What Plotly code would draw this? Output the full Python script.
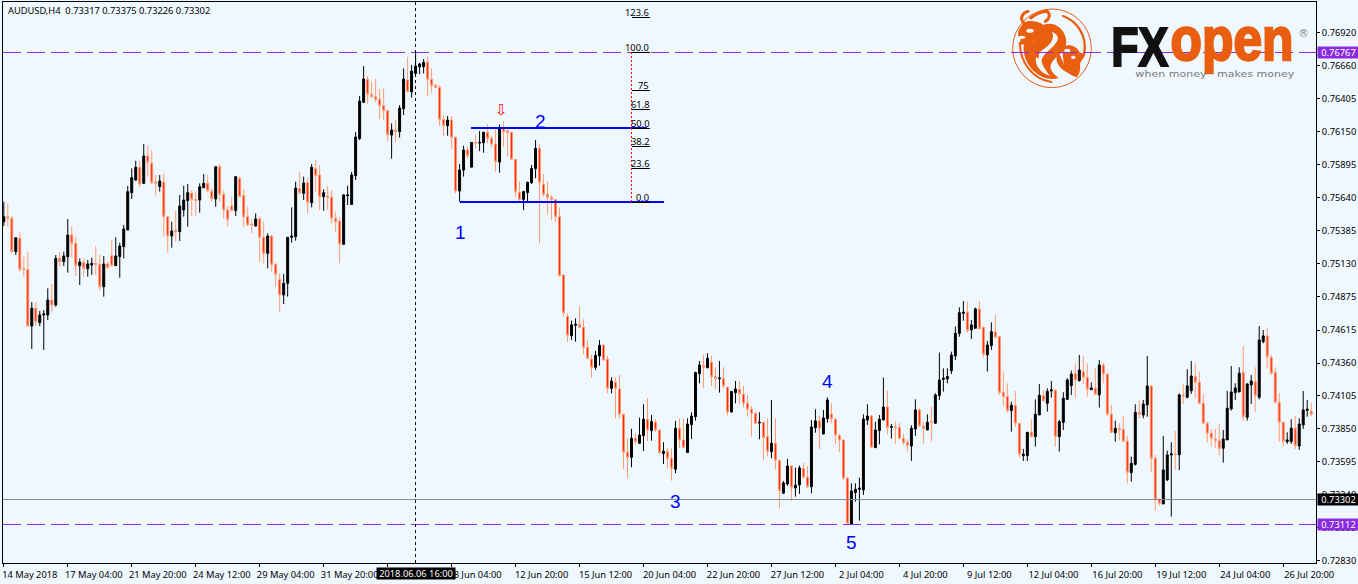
import base64
import numpy as np
import plotly.graph_objects as go

# Prices, in points (1/100000)
opens_pts = [
75454,75493,75480,75222,75325,75090,75085,74647,74784,74673,
74732,74732,74848,74809,75170,75145,75183,75351,75287,75114,
75140,75090,75119,75132,75124,74951,75127,75191,75114,75183,
75261,75390,75679,75777,75875,75751,75963,75906,75761,75725,
75761,75493,75343,75390,75377,75545,75617,75674,75627,75622,
75717,75751,75689,75630,75880,75666,75545,75576,75540,75790,
75656,75493,75436,75421,75475,75333,75209,75343,75124,75008,
74887,74977,75333,75338,75710,75674,75756,75601,75867,75816,
75648,75653,75643,75480,75459,75279,75656,75588,75810,76099,
76378,76556,76440,76422,76401,76352,76313,76125,76164,76151,
76329,76551,76458,76602,76654,76654,76688,76556,76510,76494,
76246,76197,76241,76107,75692,75854,76009,75877,76068,76063,
76066,76146,76099,76055,75916,76177,76156,76146,75937,75681,
75627,75679,75756,75865,76022,75743,75666,75643,75627,75493,
75042,74719,74572,74652,74660,74637,74482,74389,74327,74415,
74497,74389,74164,74211,74159,73963,73669,73630,73777,73739,
73798,73925,73837,73901,73842,73659,73674,73623,73538,73855,
73765,73667,73883,73945,74278,74342,74324,74366,74255,74239,
74239,74172,73981,74131,74157,74118,74048,74002,73971,73896,
73901,73790,73674,73739,73607,73352,73424,73563,73393,73416,
73545,73476,73403,73860,73912,73811,73930,73963,73925,73798,
73765,73468,73112,73357,73383,73378,73919,73950,73705,73837,
73919,74020,73863,73865,73863,73775,73744,73718,73850,73997,
73873,73842,73906,73894,74108,74234,74237,74301,74415,74590,
74745,74753,74616,74629,74779,74637,74423,74495,74601,74564,
74131,74100,73992,74033,73894,73643,73643,73824,73790,73958,
74108,74048,74144,74149,73790,73901,74079,74185,74278,74224,
74293,74250,74154,74164,74113,74345,74275,73963,73821,73855,
73847,73754,73512,73576,73979,73958,74036,74183,73623,73305,
73269,73455,73649,73656,73649,74113,74095,74146,74255,74211,
74048,73894,73816,73772,73759,73700,73765,74005,74131,74136,
74288,73940,74190,74216,74095,74526,74570,74404,74286,74056,
73901,73752,73752,73855,73718,73881,73994,73986]

highs_pts = [
75609,75596,75501,75330,75372,75183,75222,74833,74833,74763,
74771,74938,74972,75196,75222,75222,75475,75416,75338,75170,
75170,75158,75176,75266,75196,75189,75145,75317,75333,75292,
75429,75730,75867,75926,75926,76055,76043,76009,75816,75816,
75828,75493,75454,75539,75661,75733,75746,75699,75687,75751,
75823,75816,75712,75880,75901,75694,75576,75648,75803,75803,
75705,75570,75467,75519,75493,75454,75364,75351,75132,75054,
75049,75333,75565,75764,75841,75803,75797,75901,75932,75893,
75705,75730,75699,75532,75488,75668,75733,75839,76148,76427,
76659,76582,76538,76559,76481,76486,76319,76215,76241,76357,
76641,76731,76667,76770,76685,76713,76731,76641,76520,76512,
76280,76272,76272,76112,75901,76043,76035,76068,76130,76156,
76151,76210,76120,76177,76208,76233,76184,76151,75937,75764,
75694,75764,75893,76086,76053,75823,75764,75661,75627,75565,
75042,74745,74688,74706,74802,74699,74539,74423,74453,74539,
74508,74415,74250,74247,74268,73963,73777,73850,73816,73937,
74041,74087,73958,73925,73842,73747,73700,73700,73912,73932,
73932,73932,73979,74293,74376,74423,74435,74415,74327,74376,
74327,74177,74144,74221,74221,74183,74113,74028,73984,73979,
73906,73932,74074,73932,73607,73447,73618,73563,73550,73566,
73587,73563,73919,74002,73953,73997,74095,74048,73932,73811,
73765,73481,73429,73429,73473,73963,74041,73958,73906,73958,
74247,74144,73888,73906,73894,73811,73770,73878,74079,74010,
73906,73963,74023,74126,74441,74319,74319,74448,74642,74791,
74840,74835,74693,74789,74840,74642,74531,74675,74732,74570,
74288,74203,74061,74144,73894,73695,73824,73925,74079,74198,
74152,74165,74221,74157,73919,74134,74242,74301,74358,74423,
74415,74358,74211,74319,74384,74358,74281,74036,73914,73894,
73953,73796,73636,74041,74069,74074,74415,74183,73648,73313,
73796,73682,73747,73834,74126,74195,74312,74376,74358,74293,
74121,73906,73847,73850,73888,73842,74144,74337,74203,74327,
74492,74203,74268,74327,74647,74616,74629,74423,74327,74126,
73906,73824,73925,73950,73932,74144,74074,74054]

lows_pts = [
75421,75416,75217,75196,75067,75029,74642,74469,74647,74647,
74461,74693,74758,74796,75106,75111,75060,75178,75034,74964,
75029,75029,75042,75042,74920,74874,75093,75106,75114,75021,
75170,75390,75630,75772,75720,75746,75803,75746,75656,75687,
75343,75214,75253,75300,75305,75493,75416,75498,75498,75524,
75717,75679,75609,75570,75609,75480,75416,75540,75498,75648,
75416,75421,75364,75416,75145,75132,75093,75067,74951,74758,
74817,74874,75292,75307,75668,75622,75519,75565,75687,75545,
75539,75545,75441,75372,75132,75274,75583,75583,75777,76086,
76373,76365,76417,76383,76249,76241,76074,75942,76066,76105,
76280,76455,76414,76602,76597,76602,76427,76453,76486,76195,
76120,76120,76017,75674,75609,75803,75945,75872,76022,76001,
75988,76061,76030,75841,75834,76035,75957,75932,75648,75609,
75545,75601,75746,75790,75287,75648,75519,75467,75454,75029,
74719,74521,74539,74526,74629,74430,74389,74247,74306,74340,
74376,74126,74126,73932,73932,73540,73468,73553,73731,73734,
73679,73757,73759,73829,73656,73579,73545,73450,73507,73700,
73700,73667,73772,73914,74203,74164,74319,74183,74157,74131,
74164,73953,73979,74048,74043,74017,73945,73790,73888,73770,
73610,73636,73623,73538,73236,73352,73409,73295,73326,73347,
73468,73391,73352,73821,73695,73808,73899,73894,73734,73669,
73455,73107,73107,73287,73140,73339,73881,73705,73705,73731,
73919,73808,73775,73734,73770,73726,73674,73602,73796,73868,
73734,73842,73752,73888,74074,74139,74203,74275,74384,74564,
74688,74595,74546,74629,74621,74402,74294,74461,74551,74113,
74028,73976,73829,73868,73628,73602,73602,73785,73713,73958,
74061,73984,74092,73713,73674,73842,74074,74113,74087,74216,
74198,74100,74152,74113,74015,74203,73953,73816,73752,73759,
73752,73429,73442,73566,73932,73932,73945,73519,73218,73254,
73269,73447,73171,73532,73532,74043,74087,74121,74087,74043,
73886,73744,73713,73700,73643,73589,73765,73992,74074,74136,
73914,73914,74043,73984,74079,74513,74319,74268,74048,73752,
73713,73734,73734,73695,73687,73850,73945,73950]

closes_pts = [
75493,75480,75222,75330,75085,75085,74647,74784,74680,74732,
74740,74848,74809,75170,75145,75189,75351,75287,75114,75142,
75093,75127,75132,75124,74951,75127,75098,75114,75189,75266,
75398,75687,75795,75875,75746,75963,75914,75756,75751,75769,
75493,75343,75382,75377,75576,75622,75679,75627,75617,75725,
75751,75694,75632,75880,75666,75545,75472,75540,75803,75648,
75493,75429,75429,75475,75333,75209,75343,75124,75047,74887,
74977,75333,75343,75715,75679,75754,75604,75875,75810,75648,
75679,75643,75480,75454,75281,75661,75661,75816,76110,76388,
76559,76440,76422,76401,76352,76313,76128,76164,76151,76334,
76559,76461,76620,76659,76675,76688,76556,76510,76494,76246,
76200,76241,76107,75692,75854,76009,75965,76068,76061,76068,
76146,76099,76055,75919,76177,76151,76143,75937,75687,75627,
75687,75759,75867,76022,75759,75666,75643,75627,75493,75036,
74750,74577,74655,74660,74637,74482,74397,74327,74420,74497,
74384,74164,74221,74164,73963,73669,73630,73777,73752,73803,
73925,73842,73907,73842,73667,73677,73623,73545,73855,73765,
73708,73888,73950,74286,74345,74327,74397,74255,74239,74244,
74183,73981,74139,74159,74123,74048,74002,73971,73894,73901,
73783,73677,73739,73607,73372,73432,73563,73398,73414,73548,
73476,73403,73865,73912,73855,73935,74074,73930,73803,73765,
73468,73120,73370,73383,73391,73927,73950,73708,73842,73925,
74020,73860,73868,73860,73775,73744,73721,73855,73997,73873,
73855,73901,73899,74113,74229,74242,74255,74422,74590,74750,
74753,74611,74655,74779,74626,74428,74500,74603,74559,74131,
74100,73992,74033,73894,73654,73654,73824,73790,73963,74110,
74069,74141,74152,73790,73906,74087,74229,74275,74229,74306,
74250,74159,74167,74118,74345,74275,73963,73824,73855,73842,
73754,73514,73584,73979,73963,74043,74183,73623,73305,73274,
73532,73649,73656,73651,74113,74105,74183,74260,74211,74048,
73894,73816,73777,73759,73700,73772,74010,74136,74167,74281,
73945,74198,74221,74108,74539,74570,74410,74281,74056,73901,
73752,73765,73855,73721,73888,73997,74002,73963]

x_tick_labels = ["14 May 2018","17 May 04:00","21 May 20:00","24 May 12:00","29 May 04:00",
                 "31 May 20:00","5 Jun 12:00","8 Jun 04:00","12 Jun 20:00","15 Jun 12:00",
                 "20 Jun 04:00","22 Jun 20:00","27 Jun 12:00","2 Jul 04:00","4 Jul 20:00",
                 "9 Jul 12:00","12 Jul 04:00","16 Jul 20:00","19 Jul 12:00","24 Jul 04:00","26 Jul 20:00"]
bars_per_tick = 16
y_tick_labels = ["0.76920","0.76660","0.76405","0.76150","0.75895","0.75640","0.75385","0.75130",
                 "0.74875","0.74615","0.74360","0.74105","0.73850","0.73595","0.73340","0.73085","0.72830"]

resistance_level = 0.76767
support_level = 0.73112
bid_level = 0.73302
crosshair_bar = 103
crosshair_label = "2018.06.06 16:00"

fib_names = ["123.6","100.0","75","61.8","50.0","38.2","23.6","0.0"]
fib_prices = [0.77036,0.76765,0.76471,0.76319,0.76179,0.76038,0.75867,0.75604]
wave_names = ["1","2","3","4","5"]
wave_bars = [114.2,134.2,167.9,206,212]
wave_prices = [0.75374,0.76233,0.73292,0.74220,0.72967]

SANS = "Noto Sans, Liberation Sans, sans-serif"
FS = 9.3
BG = "#F0F8FF"
PURPLE = "#8A2BE2"
BLUE = "#0000FF"
ORANGE = "#E95E0F"

W, H = 1358, 584
L, R, T, B = 3, 42, 2, 21
def px(x): return (x - L) / (W - L - R)
def py(y): return 1 - (y - T) / (H - T - B)

bars = np.arange(len(closes_pts))
fig = go.Figure(go.Candlestick(
    x=bars,
    open=np.array(opens_pts) / 1e5, high=np.array(highs_pts) / 1e5,
    low=np.array(lows_pts) / 1e5, close=np.array(closes_pts) / 1e5,
    increasing=dict(line=dict(color="#000000", width=1), fillcolor="#000000"),
    decreasing=dict(line=dict(color="#FF9A70", width=1), fillcolor="#FF2000"),
    whiskerwidth=0, hoverinfo="skip", showlegend=False,
))

shapes = []
def hline(y, color, dash, width=1):
    shapes.append(dict(type="line", xref="paper", x0=0, x1=1, yref="y", y0=y, y1=y,
                       line=dict(color=color, width=width, dash=dash), layer="above"))
hline(resistance_level, PURPLE, "18px,6px")
hline(support_level, PURPLE, "18px,6px")
hline(bid_level, "#7F8C99", "solid")
shapes.append(dict(type="line", xref="x", x0=crosshair_bar, x1=crosshair_bar, yref="paper", y0=0, y1=1,
                   line=dict(color="#000000", width=1, dash="3px,3px")))
# Fibonacci tool
shapes.append(dict(type="line", x0=116.9, x1=160.9, y0=fib_prices[4], y1=fib_prices[4], line=dict(color=BLUE, width=2)))
shapes.append(dict(type="line", x0=114, x1=165.2, y0=fib_prices[7], y1=fib_prices[7], line=dict(color=BLUE, width=2)))
shapes.append(dict(type="line", x0=157, x1=157, y0=fib_prices[7], y1=fib_prices[1], line=dict(color="#FF0000", width=1, dash="2px,2px")))
for p in fib_prices:
    shapes.append(dict(type="line", x0=157, x1=161.7, y0=p, y1=p, line=dict(color="#000000", width=1)))

ann = []
for name, p in zip(fib_names, fib_prices):
    ann.append(dict(x=161.7, y=p, xref="x", yref="y", text=name, showarrow=False, xanchor="right", yanchor="bottom",
                    font=dict(family=SANS, size=FS, color="#000000"), borderpad=0, yshift=-2.5))
for name, xb, p in zip(wave_names, wave_bars, wave_prices):
    ann.append(dict(x=xb, y=p, xref="x", yref="y", text=name, showarrow=False,
                    font=dict(family="Liberation Sans", size=19, color=BLUE), borderpad=0))
ann.append(dict(x=124.5, y=0.76320, xref="x", yref="y", text="\u21e9", showarrow=False,
                font=dict(family="DejaVu Sans", size=15, color="#FF0000"), borderpad=0))
ann.append(dict(x=px(7), y=py(10.5), xref="paper", yref="paper", text="AUDUSD,H4  0.73317 0.73375 0.73226 0.73302",
                showarrow=False, xanchor="left", yanchor="middle", font=dict(family=SANS, size=FS, color="#000000"), borderpad=0))
for level, col in [(resistance_level, PURPLE), (bid_level, "#000000"), (support_level, PURPLE)]:
    ann.append(dict(x=px(1317), y=level, xref="paper", yref="y", text=f"{level:.5f}", showarrow=False, xanchor="left",
                    font=dict(family=SANS, size=FS, color="#FFFFFF"), bgcolor=col, width=41, height=11, borderpad=0))
ann.append(dict(x=crosshair_bar, y=py(566.5), xref="x", yref="paper", text=crosshair_label, showarrow=False,
                yanchor="top", font=dict(family=SANS, size=FS, color="#FFFFFF"), bgcolor="#000000",
                width=78, height=11, borderpad=0))
# Logo wordmark
ann.append(dict(x=px(1140), y=py(47), xref="paper", yref="paper", text="<b>FX</b>", showarrow=False,
                xanchor="center", yanchor="middle",
                font=dict(family="Liberation Sans", size=56, color="#111111"), borderpad=0))
ann.append(dict(x=px(1232), y=py(38.5), xref="paper", yref="paper", text="<b>open</b>", showarrow=False,
                xanchor="center", yanchor="middle",
                font=dict(family="Liberation Sans", size=62, color=ORANGE), borderpad=0))
ann.append(dict(x=px(1214.5), y=py(73.5), xref="paper", yref="paper", text="when money   makes money", showarrow=False,
                xanchor="center", yanchor="middle",
                font=dict(family="DejaVu Sans", size=9, color="#7A7A7A"), borderpad=0))
ann.append(dict(x=px(1303), y=py(33), xref="paper", yref="paper", text="\u00ae", showarrow=False,
                xanchor="center", yanchor="middle",
                font=dict(family="DejaVu Sans", size=11, color="#8A8A8A"), borderpad=0))

emblem = f'''<svg xmlns="http://www.w3.org/2000/svg" viewBox="0 0 270 258" width="540" height="516">
<circle cx="132" cy="133" r="118" fill="none" stroke="{ORANGE}" stroke-width="3"/>
<g fill="none" stroke="{ORANGE}" stroke-linecap="round">
<path d="M165,36 C205,50 240,95 228,150" stroke-width="7"/>
<path d="M36,120 C36,170 70,225 130,234" stroke-width="6"/>
<path d="M48,58 C33,42 44,26 60,22" stroke-width="9"/>
<path d="M68,42 C85,30 105,22 118,22 C128,30 125,45 112,52" stroke-width="9"/>
</g>
<g fill="{ORANGE}">
<path d="M100,66 C130,48 168,68 174,105 C180,140 150,150 132,175 C122,190 128,205 152,222 C120,232 80,215 60,180 C46,155 44,130 50,112 C70,125 95,110 100,66 Z"/>
<path d="M30,95 C30,75 40,65 50,55 C60,48 90,50 105,62 C110,85 95,105 78,112 C60,122 40,125 30,118 C40,110 42,105 30,95 Z"/>
<path d="M150,140 C138,170 150,192 182,208 C168,185 162,165 150,140 Z"/>
<path d="M166,130 C180,118 205,125 215,145 L232,152 C228,162 218,170 216,180 C218,195 216,208 206,220 C190,215 175,205 165,192 C172,170 158,150 166,130 Z"/>
</g>
<g fill="{BG}">
<path d="M132,84 C142,105 125,125 100,140 C88,150 92,166 100,172 C108,140 146,130 150,102 C148,92 140,86 132,84 Z"/>
<path d="M84,160 C80,185 95,205 126,216 C110,195 100,180 100,166 Z"/>
<ellipse cx="66" cy="80" rx="11" ry="6"/><ellipse cx="42" cy="100" rx="10" ry="5"/>
<ellipse cx="178" cy="140" rx="9" ry="6"/><ellipse cx="196" cy="160" rx="7" ry="5"/><ellipse cx="160" cy="214" rx="9" ry="8"/>
</g>
</svg>'''
logo_src = "data:image/svg+xml;base64," + base64.b64encode(emblem.encode()).decode()

fig.update_layout(
    width=W, height=H, margin=dict(l=L, r=R, t=T, b=B, autoexpand=False),
    paper_bgcolor=BG, plot_bgcolor=BG, showlegend=False, hovermode=False,
    shapes=shapes, annotations=ann,
    images=[dict(source=logo_src, xref="paper", yref="paper", x=px(1008), y=py(4), sizex=90/(W-L-R), sizey=86/(H-T-B),
                 xanchor="left", yanchor="top", sizing="stretch", layer="below")],
    font=dict(family=SANS, size=FS, color="#000000"),
)
fig.update_xaxes(
    range=[-0.2, 328.2], rangeslider_visible=False, showgrid=False, zeroline=False,
    showline=True, mirror=True, linecolor="#000000", linewidth=1,
    tickmode="array", tickvals=[i * bars_per_tick for i in range(len(x_tick_labels))], ticktext=x_tick_labels,
    ticks="outside", ticklen=3, tickcolor="#000000", ticklabelshift=26, ticklabelstandoff=0,
    tickfont=dict(family=SANS, size=FS, color="#000000"), tickangle=0,
)
fig.update_yaxes(
    range=[0.72812, 0.77155], side="right", showgrid=False, zeroline=False,
    showline=True, mirror=True, linecolor="#000000", linewidth=1,
    tickmode="array", tickvals=[float(s) for s in y_tick_labels], ticktext=y_tick_labels,
    ticks="outside", ticklen=3, tickcolor="#000000",
    tickfont=dict(family=SANS, size=FS, color="#000000"),
)

# Fit the wordmark to the logo's condensed widths and keep the thin shapes crisp
post = """
document.body.style.margin='0';
document.body.style.background='%s';
document.documentElement.style.overflow='hidden';
function fitLogo(){
  var fits={'FX':[57,2.2],'open':[123,2.4],'when money   makes money':[159,0]};
  document.querySelectorAll('.annotation-text').forEach(function(t){
    var k=t.textContent;
    if(fits[k]){t.setAttribute('textLength',fits[k][0]);t.setAttribute('lengthAdjust','spacingAndGlyphs');
      if(fits[k][1]){t.style.stroke=t.style.fill;t.style.strokeWidth=fits[k][1]+'px';}}
  });
  document.querySelectorAll('.shapelayer path').forEach(function(p){p.style.shapeRendering='crispEdges';});
}
fitLogo();
setTimeout(fitLogo,100);
""" % BG
fig.write_html("out.html", config=dict(displayModeBar=False), post_script=post)
